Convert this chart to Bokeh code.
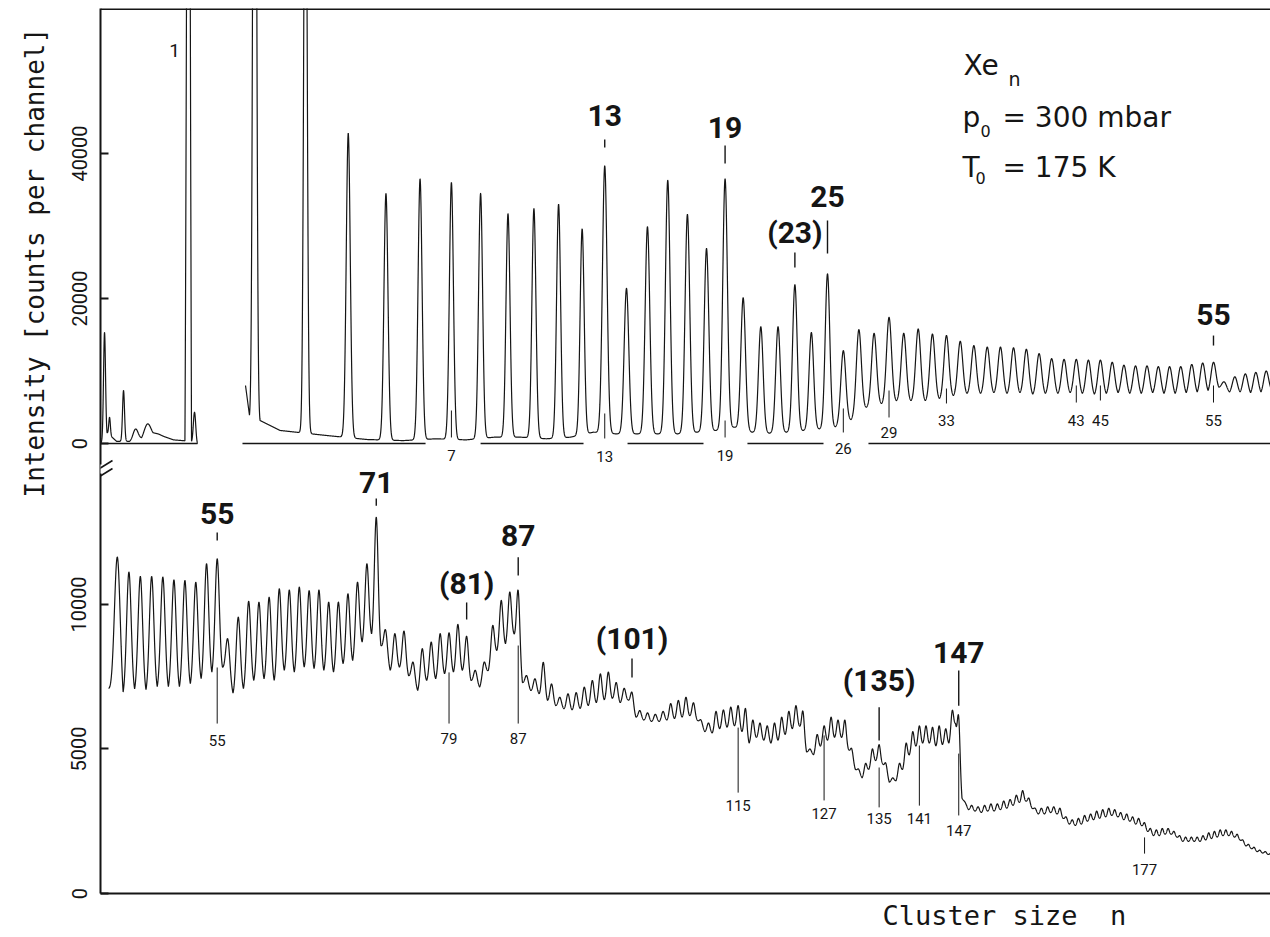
import numpy as np
from math import pi
from bokeh.plotting import figure
from bokeh.models import Range1d, LinearAxis, FixedTicker, Label, Span, Arrow, Title
from bokeh.core.properties import value
from bokeh.embed import file_html
from bokeh.resources import INLINE

# ------------------------------------------------------------------ data
# Upper spectrum (counts per channel, 0..60000); x = cluster size n (time of flight ~ sqrt(n))
# piece before the detector gate: peaks at equivalent size (mass / m_Xe)
pre_n = [0.225, 0.256, 0.352, 0.447, 0.553, 0.66, 1.0, 1.077]
pre_peak = [15300, 3600, 7300, 2000, 2700, 1300, 120000, 4300]
pre_valley = [0, 1500, 300, 300, 800, 1500, 500, 300, 0]
pre_limits_n = [0.2017, 1.116]

# piece after the gate
gate_n = [1.841, 1.909]
gate_val = [8000, 3900]
top_n = list(range(2, 61))
top_peak = [150000, 100000, 42800, 34500, 36500, 36000, 34500, 31700, 32400, 33000,
            29600, 38300, 21400, 29900, 36300, 31600, 26900, 36500, 20100, 16100,
            16100, 21900, 15300, 23400, 12800, 15700, 15200, 17400, 15200, 15800,
            15100, 14900, 14100, 13500, 13300, 13300, 13200, 13000, 12400, 11700,
            11600, 11600, 11500, 11500, 11200, 10800, 10700, 10700, 10600, 10600,
            10600, 10900, 11100, 11200, 8500, 9200, 9600, 9800, 10000]
top_valley = [1800, 1100, 550, 400, 650, 500, 870, 870, 650, 870,
              1560, 1330, 1330, 1330, 1330, 1560, 1790, 2250, 1560, 1420,
              1560, 1790, 2020, 2300, 3300, 5000, 5500, 5900, 5900, 5900,
              6200, 6600, 6900, 6900, 7000, 6900, 7000, 6800, 6900, 6900,
              7000, 6900, 6800, 6900, 7000, 6900, 6900, 7000, 6900, 6900,
              7000, 7100, 7300, 7760, 7100, 7100, 7000, 7100, 7500]

# zero line of the upper panel, interrupted by the labels
base_from_n = [0.2017, 1.79, 8.0, 14.05, 20.24, 27.63]
base_to_n = [1.116, 6.17, 12.06, 17.84, 24.75, 61.0]

# Lower spectrum (counts per channel, 0..~14000)
bot_start_n = 45.24
bot_start_val = 7100
bot_n = list(range(46, 200))
bot_peak = [11640, 11120, 10970, 10970, 10950, 10850, 10830, 10770, 11410, 11580,
            8810, 9560, 10110, 10080, 10250, 10540, 10500, 10600, 10480, 10500,
            10080, 10080, 10370, 10770, 11410, 13020, 9120, 8990, 9080, 8000,
            8470, 8700, 8990, 9020, 9310, 8900, 7720, 8000, 9270, 10140,
            10430, 10480, 7540, 7430, 8000, 7250, 6790, 6910, 6950, 7140,
            7370, 7600, 7660, 7300, 7100, 6960, 6330, 6250, 6200, 6300,
            6570, 6680, 6790, 6600, 6000, 5900, 6300, 6350, 6450, 6500,
            6400, 6000, 5900, 5800, 5900, 6100, 6300, 6500, 6300, 5000,
            5500, 5800, 6100, 6000, 6000, 5000, 4300, 4500, 5000, 5150,
            4500, 4000, 4500, 5200, 5600, 5800, 5800, 5750, 5800, 5700,
            6330, 6100, 3150, 3050, 3000, 3050, 3100, 3100, 3200, 3250,
            3400, 3560, 3300, 2950, 2950, 3000, 3000, 2950, 2650, 2550,
            2600, 2700, 2750, 2850, 2900, 2950, 2900, 2800, 2750, 2650,
            2600, 2450, 2250, 2200, 2250, 2250, 2150, 2000, 1950, 1950,
            1950, 2000, 2100, 2150, 2200, 2200, 2150, 2050, 1850, 1700,
            1600, 1500, 1450, 1400]
bot_valley = [6970, 7080, 7050, 7160, 7160, 7160, 7260, 7430, 7660, 7830,
              6930, 7090, 7370, 7430, 7370, 7720, 7660, 7830, 7780, 7720,
              7660, 7950, 8060, 8700, 8980, 8580, 7720, 7830, 7540, 7020,
              7370, 7430, 7600, 7660, 7720, 7370, 7140, 7720, 8410, 8640,
              8990, 7300, 7020, 6910, 6680, 6500, 6390, 6350, 6400, 6500,
              6600, 6700, 6750, 6600, 6700, 6100, 6000, 5950, 5950, 6000,
              6050, 6100, 6150, 6000, 5600, 5550, 5700, 5750, 5800, 5600,
              5200, 5400, 5300, 5200, 5300, 5500, 5700, 5800, 4900, 4800,
              5100, 5300, 5400, 5400, 5000, 4300, 4000, 4300, 4600, 4500,
              3850, 3900, 4300, 4800, 5100, 5200, 5200, 5100, 5150, 5200,
              5900, 3300, 2900, 2850, 2800, 2850, 2850, 2900, 2950, 3050,
              3150, 3200, 2950, 2750, 2750, 2800, 2750, 2600, 2400, 2350,
              2400, 2500, 2550, 2600, 2650, 2700, 2650, 2550, 2500, 2400,
              2350, 2150, 2000, 2000, 2050, 2050, 1950, 1800, 1800, 1800,
              1800, 1850, 1900, 1950, 2000, 2000, 1950, 1850, 1650, 1550,
              1450, 1400, 1350, 1300]

# annotations: upper panel
top_big_text = ["13", "19", "(23)", "25", "55"]
top_big_n = [13, 19, 23, 25, 55]
top_big_y = [45230, 43580, 29100, 34060, 17790]
top_big_tick = [(40820, 41920), (38610, 41090), (24270, 26340), (26200, 30750), (13510, 14890)]
top_small_text = ["7", "13", "19", "26", "29", "33", "43", "45", "55"]
top_small_n = [7, 13, 19, 26, 29, 33, 43, 45, 55]
top_small_y = [-1650, -1790, -1650, -690, 1520, 3170, 3170, 3170, 3170]
top_small_tick = [(830, 4550), (690, 4140), (830, 3170), (1520, 4830), (3590, 7310),
                  (5520, 7580), (5650, 8000), (5930, 8000), (5650, 8000)]
mono_label = ["1"]
mono_n = [1]
mono_y = [54200]

# annotations: lower panel
bot_big_text = ["55", "71", "(81)", "87", "(101)", "(135)", "147"]
bot_big_n = [55, 71, 81, 87, 101, 135, 147]
bot_big_y = [13150, 14220, 10730, 12390, 8820, 7370, 8340]
bot_big_tick = [(12210, 12490), (13420, 13670), (9480, 10070), (11000, 11630),
                (7470, 8130), (5290, 6440), (6500, 7720)]
bot_small_text = ["55", "79", "87", "115", "127", "135", "141", "147", "177"]
bot_small_n = [55, 79, 87, 115, 127, 135, 141, 147, 177]
bot_small_y = [5290, 5360, 5360, 3040, 2770, 2600, 2600, 2180, 830]
bot_small_tick = [(5880, 7820), (5880, 7650), (5880, 8580), (3490, 5740), (3220, 5470),
                  (2980, 4360), (3040, 5120), (2700, 4840), (1380, 1940)]

bottom_ticks = [0, 5000, 10000]
top_ticks = [0, 20000, 40000]

# ------------------------------------------------------------------ geometry
W, H = 1270, 937
FL, FR, FT, FB = 100, 1270, 8, 893          # frame edges on the page
TX = (0.44914, 7.77308)                      # sqrt(n) range, upper panel
BX = (6.67525, 14.1038)                      # sqrt(n) range, lower panel
TY = (-62069.0, 60000.0)                     # upper panel counts
MY = (0.0, 30621.0)                          # lower panel counts

def px_x(px, rng=TX):
    return rng[0] + (px - FL) / (FR - FL) * (rng[1] - rng[0])

def px_y(py, rng=MY):
    return rng[0] + (FB - py) / (FB - FT) * (rng[1] - rng[0])

TPX = (FR - FL) / (TX[1] - TX[0])            # px per sqrt(n) unit


def build(centers, peaks, bounds, bvals, sigmas, npts):
    xs, ys = [], []
    for i, c in enumerate(centers):
        a, b = bounds[i], bounds[i + 1]
        va, vb = bvals[i], bvals[i + 1]
        sg = sigmas[i]
        u = np.unique(np.append(np.linspace(a, b, npts), c))
        t = (u - a) / (b - a)
        tc = (c - a) / (b - a)
        base = va + (vb - va) * t
        bc = va + (vb - va) * tc
        g = np.exp(-0.5 * ((u - c) / sg) ** 2)
        ga = np.exp(-0.5 * ((a - c) / sg) ** 2)
        gb = np.exp(-0.5 * ((b - c) / sg) ** 2)
        e = ga + (gb - ga) * t
        ec = ga + (gb - ga) * tc
        g = np.clip((g - e) / (1 - ec), 0, None)
        y = base + (peaks[i] - bc) * g
        if i > 0:
            u, y = u[1:], y[1:]
        xs.extend(u.tolist())
        ys.extend(y.tolist())
    return xs, ys


def mids(s):
    return [(s[i] + s[i + 1]) / 2 for i in range(len(s) - 1)]

p = figure(width=W, height=H, output_backend="svg", toolbar_location=None, title=None,
           x_range=Range1d(*TX), y_range=Range1d(*MY),
           x_axis_type=None, y_axis_type=None,
           min_border_left=FL, min_border_right=0, min_border_top=FT,
           min_border_bottom=H - FB,
           outline_line_color=None, background_fill_color="white",
           border_fill_color="white")
p.extra_x_ranges = {"bx": Range1d(*BX)}
p.extra_y_ranges = {"ty": Range1d(*TY)}

INK = "#151515"

# --- upper spectrum, piece before the gate
s_pre = [np.sqrt(v) for v in pre_n]
b_pre = [np.sqrt(pre_limits_n[0])] + mids(s_pre) + [np.sqrt(pre_limits_n[1])]
sig_pre_px = [1.0, 0.8, 1.0, 2.5, 3.5, 2.5, 2.0, 1.2]
xa, ya = build(s_pre, pre_peak, b_pre, pre_valley, [v / TPX for v in sig_pre_px], 200)
p.line(xa, ya, y_range_name="ty", line_color=INK, line_width=1.2)

# --- upper spectrum after the gate
s_top = [np.sqrt(n) for n in top_n]
b_top = [np.sqrt(gate_n[-1])] + mids(s_top) + [s_top[-1] + (s_top[-1] - s_top[-2]) / 2]
v_top = [gate_val[-1]] + top_valley
sig_top_px = [1.6 if n <= 3 else 2.0 if n <= 12 else 2.3 if n <= 25 else 2.5 for n in top_n]
xb, yb = build(s_top, top_peak, b_top, v_top, [v / TPX for v in sig_top_px], 160)
xb = [np.sqrt(gate_n[0])] + xb
yb = [gate_val[0]] + yb
p.line(xb, yb, y_range_name="ty", line_color=INK, line_width=1.2)

# zero line of upper panel
p.segment(x0=[np.sqrt(v) for v in base_from_n], y0=[0] * len(base_from_n),
          x1=[np.sqrt(v) for v in base_to_n], y1=[0] * len(base_to_n),
          y_range_name="ty", line_color=INK, line_width=1.6)

# --- lower spectrum
s_bot = [np.sqrt(n) for n in bot_n]
b_bot = [np.sqrt(bot_start_n)] + mids(s_bot) + [s_bot[-1] + (s_bot[-1] - s_bot[-2]) / 2]
v_bot = [bot_start_val] + bot_valley
sig_bot = [0.2 * (b_bot[i + 1] - b_bot[i]) for i in range(len(s_bot))]
xc, yc = build(s_bot, bot_peak, b_bot, v_bot, sig_bot, 60)
p.line(xc, yc, x_range_name="bx", line_color=INK, line_width=1.2)

# --- annotations upper panel
p.segment(x0=[np.sqrt(n) for n in top_big_n], x1=[np.sqrt(n) for n in top_big_n],
          y0=[t[0] for t in top_big_tick], y1=[t[1] for t in top_big_tick],
          y_range_name="ty", line_color=INK, line_width=1.4)
p.text(x=[np.sqrt(n) for n in top_big_n], y=top_big_y, text=top_big_text,
       y_range_name="ty", text_font=value("Roboto"), text_font_style="bold",
       text_font_size="30px", text_align="center", text_baseline="middle", text_color=INK)
p.segment(x0=[np.sqrt(n) for n in top_small_n], x1=[np.sqrt(n) for n in top_small_n],
          y0=[t[0] for t in top_small_tick], y1=[t[1] for t in top_small_tick],
          y_range_name="ty", line_color=INK, line_width=1.0)
p.text(x=[np.sqrt(n) for n in top_small_n], y=top_small_y, text=top_small_text,
       y_range_name="ty", text_font=value("Roboto"), text_font_size="15px",
       text_align="center", text_baseline="middle", text_color=INK)
p.text(x=[np.sqrt(n) for n in mono_n], y=mono_y, text=mono_label, x_offset=-14,
       y_range_name="ty", text_font=value("Roboto"), text_font_size="19px",
       text_align="center", text_baseline="middle", text_color=INK)

# --- annotations lower panel
p.segment(x0=[np.sqrt(n) for n in bot_big_n], x1=[np.sqrt(n) for n in bot_big_n],
          y0=[t[0] for t in bot_big_tick], y1=[t[1] for t in bot_big_tick],
          x_range_name="bx", line_color=INK, line_width=1.4)
p.text(x=[np.sqrt(n) for n in bot_big_n], y=bot_big_y, text=bot_big_text,
       x_range_name="bx", text_font=value("Roboto"), text_font_style="bold",
       text_font_size="30px", text_align="center", text_baseline="middle", text_color=INK)
p.segment(x0=[np.sqrt(n) for n in bot_small_n], x1=[np.sqrt(n) for n in bot_small_n],
          y0=[t[0] for t in bot_small_tick], y1=[t[1] for t in bot_small_tick],
          x_range_name="bx", line_color=INK, line_width=1.0)
p.text(x=[np.sqrt(n) for n in bot_small_n], y=bot_small_y, text=bot_small_text,
       x_range_name="bx", text_font=value("Roboto"), text_font_size="15px",
       text_align="center", text_baseline="middle", text_color=INK)

# --- axes
def to_main(v):
    return MY[0] + (v - TY[0]) / (TY[1] - TY[0]) * (MY[1] - MY[0])

tick_pos = list(bottom_ticks) + [int(round(to_main(v))) for v in top_ticks]
tick_lab = [str(v) for v in bottom_ticks] + [str(v) for v in top_ticks]
yax = LinearAxis(ticker=FixedTicker(ticks=tick_pos, minor_ticks=[]),
                 major_label_overrides=dict(zip(tick_pos, tick_lab)),
                 major_label_orientation="vertical",
                 major_label_text_font="Roboto", major_label_text_font_size="20px",
                 major_label_text_color=INK, major_label_standoff=14,
                 major_tick_in=8, major_tick_out=0, major_tick_line_width=2,
                 major_tick_line_color=INK, minor_tick_line_color=None,
                 axis_line_width=2, axis_line_color=INK)
p.add_layout(yax, "left")
xax = LinearAxis(ticker=FixedTicker(ticks=[], minor_ticks=[]),
                 major_label_text_font_size="0px", major_label_standoff=0,
                 major_tick_out=0, major_tick_in=0, major_tick_line_color=None,
                 minor_tick_line_color=None, axis_line_width=2, axis_line_color=INK)
p.add_layout(xax, "below")

# axis titles as side-panel titles (placed along the axis)
p.add_layout(Title(text="Intensity [counts per channel]", align="left",
                   vertical_align="top", offset=FB - 497, standoff=34,
                   text_font="DejaVu Sans Mono", text_font_size="26px",
                   text_font_style="normal", text_color=INK), "left")
p.add_layout(Title(text="Cluster size \u00a0n", align="left", offset=882 - FL,
                   standoff=8, text_font="DejaVu Sans Mono", text_font_size="27px",
                   text_font_style="normal", text_color=INK), "below")

p.add_layout(Span(location=TY[1], dimension="width", y_range_name="ty",
                  line_color=INK, line_width=3))

# axis break
p.add_layout(Arrow(end=None, x_start=px_x(100), y_start=px_y(464), x_end=px_x(100),
                   y_end=px_y(473), line_color="white", line_width=5))
for y0, y1 in [(475, 460), (483, 468)]:
    p.add_layout(Arrow(end=None, x_start=px_x(88), y_start=px_y(y0), x_end=px_x(112),
                       y_end=px_y(y1), line_color=INK, line_width=1.6))

# legend text
def add_txt(px, py, txt, size):
    p.add_layout(Label(x=px_x(px), y=px_y(py), text=txt, text_align="left",
                       text_baseline="alphabetic", text_font="DejaVu Sans",
                       text_font_size=size, text_color=INK))

add_txt(963, 65, "Xe", "28px")
add_txt(1008, 78, "n", "19px")
add_txt(962, 117, "p", "28px")
add_txt(980, 130, "0", "16px")
add_txt(1002, 117, "= 300 mbar", "28px")
add_txt(962, 167, "T", "28px")
add_txt(975, 177, "0", "16px")
add_txt(1002, 167, "= 175 K", "28px")

with open("out.html", "w", encoding="utf-8") as f:
    f.write(file_html(p, INLINE))
